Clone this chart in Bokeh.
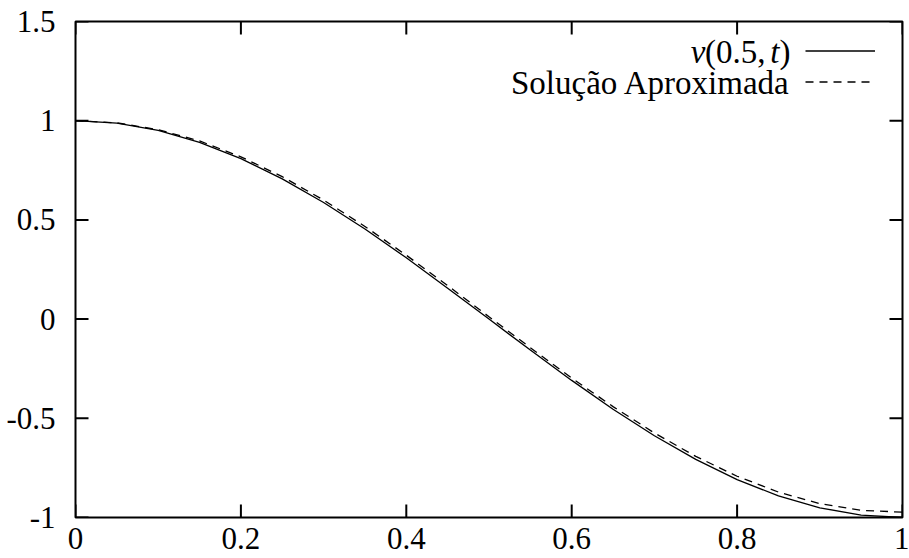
from bokeh.plotting import figure
from bokeh.models import (ColumnDataSource, LinearAxis, FixedTicker, Range1d,
                          Legend, LegendItem, Label)
from bokeh.embed import file_html
from bokeh.resources import INLINE

# ---- data ----
t = [0.0, 0.05, 0.1, 0.15, 0.2, 0.25, 0.3, 0.35, 0.4, 0.45, 0.5,
     0.55, 0.6, 0.65, 0.7, 0.75, 0.8, 0.85, 0.9, 0.95, 1.0]
v_exact = [1.0, 0.988, 0.951, 0.891, 0.809, 0.707, 0.588, 0.454, 0.309, 0.156, 0.0,
           -0.156, -0.309, -0.454, -0.588, -0.707, -0.809, -0.891, -0.951, -0.988, -1.0]
v_approx = [1.0, 0.989, 0.955, 0.898, 0.818, 0.718, 0.600, 0.467, 0.322, 0.169, 0.012,
            -0.144, -0.297, -0.441, -0.574, -0.692, -0.792, -0.872, -0.930, -0.964, -0.973]
x_ticks = [0, 0.2, 0.4, 0.6, 0.8, 1]
x_tick_labels = ["0", "0.2", "0.4", "0.6", "0.8", "1"]
y_ticks = [-1, -0.5, 0, 0.5, 1, 1.5]
y_tick_labels = ["-1", "-0.5", "0", "0.5", "1", "1.5"]
label_approx = "Solução Aproximada"
# v(0.5, t) split in pieces: (text, italic?)
label_exact_parts = [("v", True), ("(0.5,", False), ("t", True), (")", False)]

FONT = "Liberation Serif"
FS = "31px"
X0, X1 = 0, 1
Y0, Y1 = -1, 1.5
FRAME_W, FRAME_H = 827, 496
TICK_PX = 13

p = figure(width=909, height=558, output_backend="svg", toolbar_location=None,
           x_range=Range1d(X0, X1), y_range=Range1d(Y0, Y1),
           x_axis_location=None, y_axis_location=None,
           min_border_left=75, min_border_right=7, min_border_top=21,
           min_border_bottom=41)
p.background_fill_color = "white"
p.border_fill_color = "white"
p.outline_line_color = "black"
p.outline_line_width = 2
p.xgrid.visible = False
p.ygrid.visible = False


def style_axis(ax, ticks, labels, standoff):
    ax.ticker = FixedTicker(ticks=ticks)
    ax.major_label_overrides = {tk: lb for tk, lb in zip(ticks, labels)}
    ax.axis_line_color = None
    ax.major_tick_line_color = None
    ax.minor_tick_line_color = None
    ax.major_label_standoff = standoff
    ax.major_label_text_font = FONT
    ax.major_label_text_font_size = FS
    ax.major_label_text_color = "black"


xb = LinearAxis()
style_axis(xb, x_ticks, x_tick_labels, 4)
p.add_layout(xb, "below")
yl = LinearAxis()
style_axis(yl, y_ticks, y_tick_labels, 14)
p.add_layout(yl, "left")

# inward tick marks on all four sides (gnuplot style), built from the tick arrays
dy = TICK_PX * (Y1 - Y0) / FRAME_H
dx = TICK_PX * (X1 - X0) / FRAME_W
p.segment(x0=x_ticks, y0=[Y0] * len(x_ticks), x1=x_ticks, y1=[Y0 + dy] * len(x_ticks),
          line_color="black", line_width=2)
p.segment(x0=x_ticks, y0=[Y1] * len(x_ticks), x1=x_ticks, y1=[Y1 - dy] * len(x_ticks),
          line_color="black", line_width=2)
p.segment(x0=[X0] * len(y_ticks), y0=y_ticks, x1=[X0 + dx] * len(y_ticks), y1=y_ticks,
          line_color="black", line_width=2)
p.segment(x0=[X1] * len(y_ticks), y0=y_ticks, x1=[X1 - dx] * len(y_ticks), y1=y_ticks,
          line_color="black", line_width=2)

src = ColumnDataSource(dict(t=t, ve=v_exact, va=v_approx))
r1 = p.line("t", "ve", source=src, line_color="black", line_width=1.3)
r2 = p.line("t", "va", source=src, line_color="black", line_width=1.3,
            line_dash="8 6")

legend = Legend(items=[LegendItem(label=" ", renderers=[r1]),
                       LegendItem(label=" ", renderers=[r2])],
                location=(730, 420), orientation="vertical",
                glyph_width=70, glyph_height=31, spacing=0,
                label_width=0, label_standoff=0, label_height=1,
                label_text_font_size="1px", label_text_color=None,
                padding=0, margin=0,
                border_line_alpha=0, background_fill_alpha=0)
p.add_layout(legend)

# legend texts (right-aligned, to the left of the samples)
p.add_layout(Label(x=715, y=435, x_units="screen", y_units="screen",
                   text=label_approx, text_align="right", text_baseline="middle",
                   text_font=FONT, text_font_size="33px", text_color="black"))

# v(0.5, t): pieces placed right to left
widths = {"v": 15, "(0.5,": 60, "t": 10, ")": 11}
x_right = 715
offsets = []
for txt, it in reversed(label_exact_parts):
    offsets.append((txt, it, x_right))
    x_right -= widths[txt] + (4 if txt == "t" else 0)
for txt, it, xr in offsets:
    p.add_layout(Label(x=xr, y=466, x_units="screen", y_units="screen",
                       text=txt, text_align="right", text_baseline="middle",
                       text_font=FONT, text_font_size="33px",
                       text_font_style="italic" if it else "normal",
                       text_color="black"))

open("out.html", "w").write(file_html(p, INLINE))
